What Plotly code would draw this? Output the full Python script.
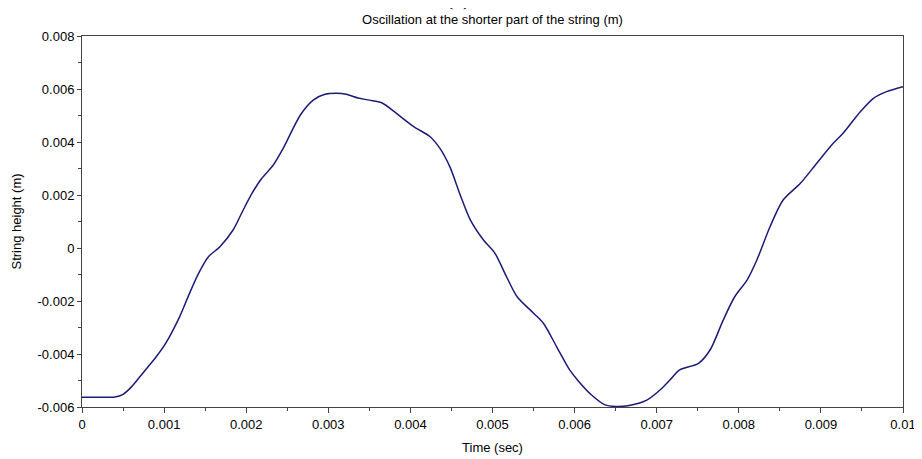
import plotly.graph_objects as go

# Time (s) and string height (m)
time_s = [0, 0.0002, 0.0004, 0.0005, 0.0006, 0.0007, 0.0008, 0.00090, 0.00103, 0.00119,
          0.00130, 0.00142, 0.00154, 0.00168, 0.00184, 0.00195, 0.00207, 0.00219, 0.00233, 0.00245,
          0.00266, 0.00282, 0.00296, 0.00310, 0.00322, 0.00336, 0.00350, 0.00365, 0.00383, 0.00404,
          0.00424, 0.00436, 0.00448, 0.00460, 0.00473, 0.00489, 0.00503, 0.00517, 0.00530, 0.00550,
          0.00562, 0.00578, 0.00594, 0.00604, 0.00620, 0.00637, 0.00650, 0.00665, 0.00688, 0.00704,
          0.00716, 0.00728, 0.00751, 0.00765, 0.00781, 0.00795, 0.00810, 0.00822, 0.00838, 0.00854,
          0.00875, 0.00895, 0.00915, 0.00927, 0.00948, 0.00964, 0.00980, 0.01000]
height_m = [-0.00563, -0.00563, -0.00562, -0.00552, -0.00525, -0.00488, -0.00450, -0.00412, -0.00354, -0.00259,
            -0.00178, -0.00096, -0.00033, 0.00005, 0.00068, 0.00135, 0.00206, 0.00263, 0.00313, 0.00376,
            0.00502, 0.00559, 0.00580, 0.00584, 0.00580, 0.00566, 0.00558, 0.00548, 0.00508, 0.00458,
            0.00420, 0.00376, 0.00307, 0.00206, 0.00106, 0.00030, -0.00020, -0.00108, -0.00184, -0.00246,
            -0.00284, -0.00372, -0.00460, -0.00500, -0.00553, -0.00592, -0.00598, -0.00595, -0.00574, -0.00536,
            -0.00498, -0.00460, -0.00435, -0.00385, -0.00272, -0.00184, -0.00121, -0.00045, 0.00080, 0.00181,
            0.00244, 0.00320, 0.00395, 0.00433, 0.00514, 0.00565, 0.00590, 0.00609]

x_tick_vals = [0, 0.001, 0.002, 0.003, 0.004, 0.005, 0.006, 0.007, 0.008, 0.009, 0.01]
x_tick_text = ["0", "0.001", "0.002", "0.003", "0.004", "0.005", "0.006", "0.007", "0.008", "0.009", "0.01"]
y_tick_vals = [-0.006, -0.004, -0.002, 0, 0.002, 0.004, 0.006, 0.008]
y_tick_text = ["-0.006", "-0.004", "-0.002", "0", "0.002", "0.004", "0.006", "0.008"]

FONT = "Liberation Sans, Arial, sans-serif"
AXIS_COLOR = "#444444"

# The page body has an 8px default margin, so the figure is sized/offset to compensate.
FIG_W, FIG_H = 914, 451

fig = go.Figure()
fig.add_trace(go.Scatter(
    x=time_s, y=height_m, mode="lines",
    line=dict(color="#1c1c78", width=1.5, shape="spline", smoothing=0.8),
    showlegend=False, hoverinfo="x+y",
))

fig.update_layout(
    width=FIG_W, height=FIG_H,
    margin=dict(l=74, r=19, t=28, b=52),
    paper_bgcolor="white", plot_bgcolor="white",
    font=dict(family=FONT, size=13, color="black"),
    title=dict(text="Oscillation at the shorter part of the string (m)",
               x=0.5, xref="paper", xanchor="center",
               y=1 - 11 / FIG_H, yref="container", yanchor="middle",
               font=dict(family=FONT, size=13, color="black")),
    annotations=[dict(text="(a)", xref="paper", yref="paper", x=(458 - 82) / 821, y=1 + 39 / 371,
                      xanchor="center", yanchor="middle", showarrow=False,
                      font=dict(family="Liberation Serif, Times New Roman, serif", size=22, color="black"))],
)

fig.update_xaxes(
    range=[0, 0.01], tickvals=x_tick_vals, ticktext=x_tick_text,
    showgrid=False, zeroline=False,
    showline=True, linecolor=AXIS_COLOR, linewidth=1, mirror=True,
    ticks="outside", ticklen=5, tickcolor=AXIS_COLOR, tickwidth=1,
    minor=dict(ticks="outside", ticklen=3, dtick=0.0005, tick0=0, tickcolor=AXIS_COLOR, showgrid=False),
    tickfont=dict(family=FONT, size=13, color="black"),
    title=dict(text="Time (sec)", font=dict(family=FONT, size=13, color="black"), standoff=12),
    automargin=False,
)
fig.update_yaxes(
    range=[-0.006, 0.008], tickvals=y_tick_vals, ticktext=y_tick_text,
    showgrid=False, zeroline=False,
    showline=True, linecolor=AXIS_COLOR, linewidth=1, mirror=True,
    ticks="outside", ticklen=4, tickcolor=AXIS_COLOR, tickwidth=1,
    minor=dict(ticks="outside", ticklen=3, dtick=0.001, tick0=0, tickcolor=AXIS_COLOR, showgrid=False),
    tickfont=dict(family=FONT, size=13, color="black"),
    title=dict(text="String height (m)", font=dict(family=FONT, size=13, color="black"), standoff=12),
    automargin=False,
)

fig.write_html("out.html")
